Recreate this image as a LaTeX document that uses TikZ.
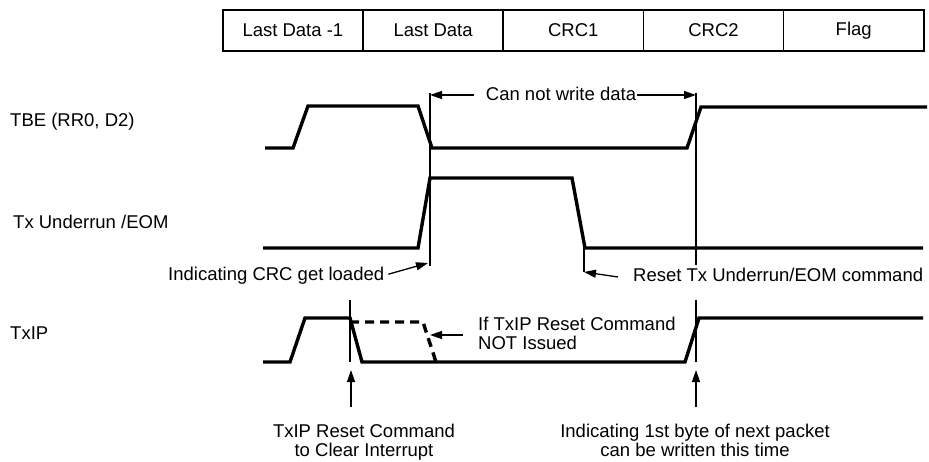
\documentclass[tikz,border=0pt]{standalone}
\usepackage{fontspec}
\setmainfont{Liberation Sans}
\usetikzlibrary{arrows.meta}
\begin{document}
\begin{tikzpicture}[x=1pt,y=-1pt,
  sig/.style={line width=3.4pt, line join=miter},
  dsig/.style={line width=3.4pt, dash pattern=on 9pt off 6pt},
  guide/.style={line width=1.1pt},
  cell/.style={draw, line width=1.6pt, minimum width=140.2pt, minimum height=41pt, inner sep=0pt, anchor=north west, font=\fontsize{18.5}{19}\selectfont},
  lbl/.style={inner sep=0pt, font=\fontsize{18.5}{19}\selectfont},
  arr/.style={line width=1.3pt, -{Triangle[length=12pt,width=8pt]}},
]
\useasboundingbox (0,0) rectangle (929,462);
% byte cells
\foreach \i/\t in {0/Last Data -1,1/Last Data,2/CRC1,3/CRC2,4/Flag}
  \node[cell] (c\i) at ({222+140.2*\i},9) {\t};
% signal names
\node[lbl, anchor=base west] (ntbe) at (10,127) {TBE (RR0, D2)};
\node[lbl, anchor=base west] (ntxu) at (13,228.5) {Tx Underrun /EOM};
\node[lbl, anchor=base west] (ntxip) at (10,340) {TxIP};
% waveforms
\draw[sig] (265,148) -- (293,148) -- (308,106) -- (418,106) -- (432,148) -- (687,148) -- (701,107) -- (927,107);
\draw[sig] (263,248) -- (418,248) -- (430,178) -- (572,178) -- (585,248) -- (923,248);
\draw[sig] (263,362) -- (290,362) -- (305,318) -- (350,318) -- (362,362) -- (685,362) -- (699,318) -- (923,318);
\draw[dsig] (350,322) -- (423,322) -- (436,362);
% guide lines
\coordinate (g1t) at (430,93);
\coordinate (g1b) at (430,266);
\coordinate (g2t) at (696,93);
\coordinate (g2b) at (696,265);
\coordinate (g2c) at (696,300);
\coordinate (g2d) at (696,362);
\coordinate (g3t) at (350,300);
\coordinate (g3b) at (350,362);
\coordinate (g4t) at (584,248);
\coordinate (g4b) at (584,272);
\draw[guide] (g1t) -- (g1b);
\draw[guide] (g2t) -- (g2b);
\draw[guide] (g2c) -- (g2d);
\draw[guide] (g3t) -- (g3b);
\draw[guide] (g4t) -- (g4b);
% can not write data
\node[lbl, anchor=base] (cnw) at (561,101) {Can not write data};
\draw[arr] (cnw.west |- 0,95) ++(-12,0) -- (g1t |- 0,95);
\draw[arr] (cnw.east |- 0,95) ++(1,0) -- (g2t |- 0,95);
% indicating CRC
\node[lbl, anchor=base west] (icrc) at (168,281) {Indicating CRC get loaded};
\coordinate (icrcA) at (428,263);
\draw[arr] (icrc.east) ++(4,-2) -- (icrcA);
% reset tx underrun
\node[lbl, anchor=base west] (rtx) at (633,282) {Reset Tx Underrun/EOM command};
\draw[arr] (618,277) -- (g4b);
% If TxIP
\node[lbl, anchor=north west, align=left] (iftx) at (478,317) {If TxIP Reset Command\\NOT Issued};
\coordinate (iftxA) at (430,335);
\draw[arr] (463,335) -- (iftxA);
% bottom arrows
\coordinate (a1b) at (351,407);
\coordinate (a1t) at (351,370);
\coordinate (a2b) at (696,407);
\coordinate (a2t) at (696,370);
\draw[arr] (a1b) -- (a1t);
\draw[arr] (a2b) -- (a2t);
\node[lbl, anchor=north, align=center] (trc) at (364,424) {TxIP Reset Command\\to Clear Interrupt};
\node[lbl, anchor=north, align=center] (i1b) at (695,424) {Indicating 1st byte of next packet\\can be written this time};
\end{tikzpicture}
\end{document}
